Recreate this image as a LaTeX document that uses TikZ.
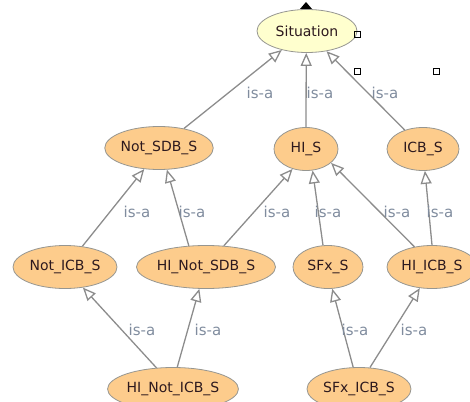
\documentclass[tikz,border=0pt]{standalone}
\usepackage{fontspec}
\setmainfont{DejaVu Sans}
\usetikzlibrary{shapes.geometric,arrows.meta}
\definecolor{clsorange}{RGB}{253,204,140}
\definecolor{clsyellow}{RGB}{255,255,206}
\definecolor{clsborder}{RGB}{150,150,145}
\definecolor{edgegray}{RGB}{140,140,140}
\definecolor{isagray}{RGB}{128,140,158}
\definecolor{txtdark}{RGB}{45,25,30}

\begin{document}
\begin{tikzpicture}[x=1pt,y=-1pt,
  cls/.style={ellipse,draw=clsborder,fill=clsorange,line width=0.8pt,
    inner sep=0pt,minimum height=43pt,minimum width=#1,text=txtdark,
    font=\fontsize{14}{16}\selectfont},
  isa/.style={text=isagray,inner sep=0pt,font=\fontsize{15}{17}\selectfont},
  isarrow/.style={draw=edgegray,line width=1.3pt,
    -{Triangle[open,length=13pt,width=11pt,fill=white]}}]
\clip (0,0) rectangle (470,401);

\node[cls=100pt,fill=clsyellow] (sit) at (307,31) {Situation};
\node[cls=108pt] (nsdb) at (159,148) {Not\_SDB\_S};
\node[cls=64pt] (his) at (306,149) {HI\_S};
\node[cls=72pt] (icbs) at (423,149) {ICB\_S};
\node[cls=104pt] (nicb) at (65,267) {Not\_ICB\_S};
\node[cls=134pt] (hinsdb) at (206,267) {HI\_Not\_SDB\_S};
\node[cls=70pt] (sfxs) at (328,267) {SFx\_S};
\node[cls=90pt] (hiicb) at (432,267) {HI\_ICB\_S};
\node[cls=130pt] (hinicb) at (173,389) {HI\_Not\_ICB\_S};
\node[cls=104pt] (sfxicb) at (359,389) {SFx\_ICB\_S};

\draw[isarrow] (nsdb.38) -- (sit.217);
\draw[isarrow] (his.90) -- (sit.268);
\draw[isarrow] (icbs.134) -- (sit.314);
\draw[isarrow] (nicb.50) -- (nsdb.235);
\draw[isarrow] (hinsdb.129) -- (nsdb.290);
\draw[isarrow] (hinsdb.50) -- (his.236);
\draw[isarrow] (sfxs.103) -- (his.287);
\draw[isarrow] (hiicb.131) -- (his.331);
\draw[isarrow] (hiicb.90) -- (icbs.275);
\draw[isarrow] (hinicb.128) -- (nicb.311);
\draw[isarrow] (hinicb.79) -- (hinsdb.253);
\draw[isarrow] (sfxicb.105) -- (sfxs.281);
\draw[isarrow] (sfxicb.63) -- (hiicb.240);

\node[isa] (l1) at (260,93) {is-a};
\node[isa] (l2) at (320,93) {is-a};
\node[isa] (l3) at (385,93) {is-a};
\node[isa] (l4) at (137,212) {is-a};
\node[isa] (l5) at (192,212) {is-a};
\node[isa] (l6) at (277,212) {is-a};
\node[isa] (l7) at (328,212) {is-a};
\node[isa] (l8) at (397,212) {is-a};
\node[isa] (l9) at (440,212) {is-a};
\node[isa] (l10) at (142,330) {is-a};
\node[isa] (l11) at (208,330) {is-a};
\node[isa] (l12) at (355,330) {is-a};
\node[isa] (l13) at (414,330) {is-a};

\fill (300,9) -- (312,9) -- (306,2) -- cycle;
\draw[line width=0.8pt] (354,31) rectangle +(6,6);
\draw[line width=0.8pt] (354,68) rectangle +(6,6);
\draw[line width=0.8pt] (433,68) rectangle +(6,6);
\end{tikzpicture}
\end{document}
